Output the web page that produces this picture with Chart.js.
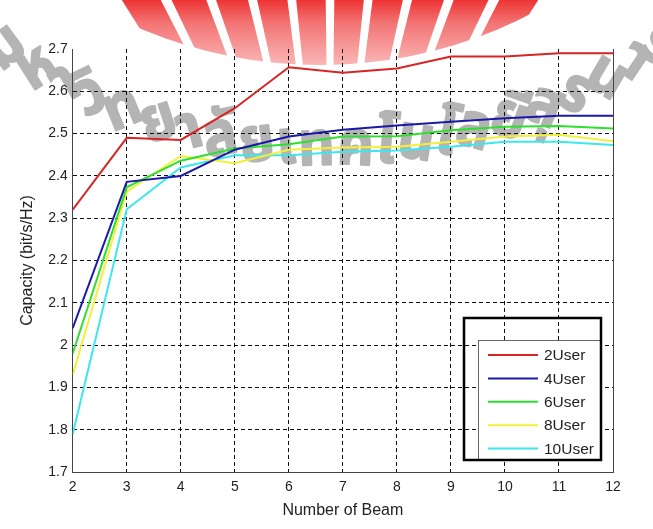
<!DOCTYPE html>
<html lang="en">
<head>
  <meta charset="UTF-8">
  <title>Capacity vs Number of Beam</title>
  <script src="https://cdn.jsdelivr.net/npm/chart.js"></script>
  <style>
    html, body { margin: 0; padding: 0; background: #fff; }
    .wrap { width: 653px; height: 529px; }
  </style>
</head>
<body>
  <div class="wrap">
    <canvas id="capChart" width="653" height="529"></canvas>
  </div>
  <script>
    // number of beams on the x axis
    const beams = [2, 3, 4, 5, 6, 7, 8, 9, 10, 11, 12];

    // capacity (bit/s/Hz) per user count
    const user2  = [2.32, 2.49, 2.485, 2.56, 2.657, 2.644, 2.654, 2.682, 2.682, 2.69, 2.69];
    const user4  = [2.04, 2.386, 2.40, 2.462, 2.493, 2.509, 2.519, 2.528, 2.536, 2.542, 2.542];
    const user6  = [1.98, 2.373, 2.436, 2.465, 2.475, 2.493, 2.494, 2.508, 2.516, 2.518, 2.512];
    const user8  = [1.93, 2.363, 2.447, 2.43, 2.462, 2.467, 2.469, 2.481, 2.493, 2.497, 2.482];
    const user10 = [1.79, 2.321, 2.42, 2.449, 2.449, 2.457, 2.46, 2.469, 2.481, 2.481, 2.473];

    const seriesNames = ['2User', '4User', '6User', '8User', '10User'];
    const seriesColors = ['#d82424', '#1a1aa8', '#2ee02e', '#f2f03a', '#3ee6ee'];

    const yTickLabels = ['1.7', '1.8', '1.9', '2', '2.1', '2.2', '2.3', '2.4', '2.5', '2.6', '2.7'];
    const xTickLabels = ['2', '3', '4', '5', '6', '7', '8', '9', '10', '11', '12'];

    const watermarkText = 'มหาวิทยาลัยเทคโนโลยีสุรนารี';

    const FONT = '"Liberation Sans", Arial, Helvetica, sans-serif';

    const allSeries = [user2, user4, user6, user8, user10];
    const datasets = allSeries.map((vals, i) => ({
      label: seriesNames[i],
      data: vals.map((v, j) => ({ x: beams[j], y: v })),
      borderColor: seriesColors[i],
      backgroundColor: seriesColors[i],
      borderWidth: 2,
      pointRadius: 0,
      tension: 0,
      fill: false
    }));

    // seal rays at the top
    function drawRays(ctx) {
      ctx.save();
      ctx.beginPath();
      ctx.arc(320, -396, 461, 0, Math.PI * 2);
      ctx.clip();
      const g = ctx.createLinearGradient(0, 0, 0, 66);
      g.addColorStop(0, 'rgb(238,52,52)');
      g.addColorStop(0.35, 'rgb(243,116,116)');
      g.addColorStop(1, 'rgb(250,184,184)');
      ctx.fillStyle = g;
      const cx = 330, cy = 330, r = 420;
      const n = 10, span = 66, gap = 1.5;
      const w = span / n;
      for (let i = 0; i < n; i++) {
        const a0 = (-span / 2 + i * w + gap / 2) * Math.PI / 180;
        const a1 = (-span / 2 + (i + 1) * w - gap / 2) * Math.PI / 180;
        ctx.beginPath();
        ctx.moveTo(cx, cy);
        ctx.lineTo(cx + r * Math.sin(a0), cy - r * Math.cos(a0));
        ctx.lineTo(cx + r * Math.sin(a1), cy - r * Math.cos(a1));
        ctx.closePath();
        ctx.fill();
      }
      ctx.restore();
    }

    // grey text bent along a wide arc
    function drawArcText(ctx) {
      const clusters = [];
      for (const ch of watermarkText) {
        const c = ch.codePointAt(0);
        const mark = c === 0x0E31 || (c >= 0x0E34 && c <= 0x0E3A) || (c >= 0x0E47 && c <= 0x0E4E);
        if (mark && clusters.length) clusters[clusters.length - 1] += ch;
        else clusters.push(ch);
      }
      const ox = 330, oy = -365, R = 530;
      const startAng = 38.5 * Math.PI / 180, endAng = -38.5 * Math.PI / 180;
      const family = '"Noto Sans Thai", "Noto Sans", sans-serif';
      const fs = 62;
      const Rm = R - 20;
      ctx.save();
      ctx.font = 'bold ' + fs + 'px ' + family;
      const total = clusters.reduce((s, c) => s + ctx.measureText(c).width, 0);
      const k = Rm * (startAng - endAng) / total;
      ctx.fillStyle = '#b4b4b4';
      ctx.strokeStyle = '#b4b4b4';
      ctx.lineWidth = 2;
      ctx.lineJoin = 'round';
      ctx.textAlign = 'center';
      ctx.textBaseline = 'alphabetic';
      let pos = 0;
      clusters.forEach(c => {
        const cw = ctx.measureText(c).width * k;
        const ang = startAng - (pos + cw / 2) / Rm;
        ctx.save();
        ctx.translate(ox - R * Math.sin(ang), oy + R * Math.cos(ang));
        ctx.rotate(-ang);
        ctx.scale(k, 1);
        ctx.strokeText(c, 0, 0);
        ctx.fillText(c, 0, 0);
        ctx.restore();
        pos += cw;
      });
      ctx.restore();
    }

    const backdropPlugin = {
      id: 'backdrop',
      beforeDraw(chart) {
        drawRays(chart.ctx);
        drawArcText(chart.ctx);
      }
    };

    // right frame line and legend box
    const decorPlugin = {
      id: 'decor',
      afterDatasetsDraw(chart) {
        const ctx = chart.ctx;
        const a = chart.chartArea;
        ctx.save();
        ctx.strokeStyle = '#444';
        ctx.lineWidth = 1;
        ctx.beginPath();
        ctx.moveTo(a.right + 0.5, a.top);
        ctx.lineTo(a.right + 0.5, a.bottom);
        ctx.stroke();

        ctx.fillStyle = '#fff';
        ctx.fillRect(478, 340, 123, 120);
        ctx.strokeStyle = '#666';
        ctx.lineWidth = 1;
        ctx.strokeRect(478.5, 340.5, 122, 119);
        ctx.strokeStyle = '#000';
        ctx.lineWidth = 2.5;
        ctx.strokeRect(464, 318, 137, 142);
        ctx.font = '15.5px ' + FONT;
        ctx.textBaseline = 'middle';
        ctx.textAlign = 'left';
        chart.data.datasets.forEach((ds, i) => {
          const y = 355 + i * 23.4;
          ctx.strokeStyle = ds.borderColor;
          ctx.lineWidth = 2;
          ctx.beginPath();
          ctx.moveTo(488, y);
          ctx.lineTo(538, y);
          ctx.stroke();
          ctx.fillStyle = '#222';
          ctx.fillText(ds.label, 544, y + 1);
        });
        ctx.restore();
      }
    };

    const gridDash = ctx => (ctx.index === 0 || ctx.index === ctx.scale.ticks.length - 1) ? 'rgba(0,0,0,0)' : '#111';

    new Chart(document.getElementById('capChart'), {
      type: 'line',
      data: { datasets },
      plugins: [backdropPlugin, decorPlugin],
      options: {
        responsive: false,
        animation: false,
        layout: { padding: { top: 49, right: 40, left: 0, bottom: 0 } },
        plugins: { legend: { display: false }, tooltip: { enabled: false } },
        scales: {
          x: {
            type: 'linear',
            min: 2,
            max: 12,
            afterFit: s => { s.height = 57; },
            ticks: {
              stepSize: 1,
              padding: 7,
              color: '#222',
              font: { family: FONT, size: 14 },
              callback: (v, i) => xTickLabels[i]
            },
            grid: { color: gridDash, drawTicks: false, lineWidth: 1 },
            border: { display: true, color: '#444', width: 1, dash: [4, 3] },
            title: {
              display: true,
              text: 'Number of Beam',
              color: '#222',
              font: { family: FONT, size: 16 },
              padding: { top: 0, bottom: 9 }
            }
          },
          y: {
            type: 'linear',
            min: 1.7,
            max: 2.7,
            afterFit: s => { s.width = 72.7; },
            ticks: {
              stepSize: 0.1,
              padding: 5,
              color: '#222',
              font: { family: FONT, size: 14 },
              callback: (v, i) => yTickLabels[i]
            },
            grid: { color: gridDash, drawTicks: false, lineWidth: 1 },
            border: { display: true, color: '#444', width: 1, dash: [4, 3] },
            title: {
              display: true,
              text: 'Capacity (bit/s/Hz)',
              color: '#222',
              font: { family: FONT, size: 16 },
              padding: { top: 18, bottom: 0 }
            }
          }
        }
      }
    });
  </script>
</body>
</html>
